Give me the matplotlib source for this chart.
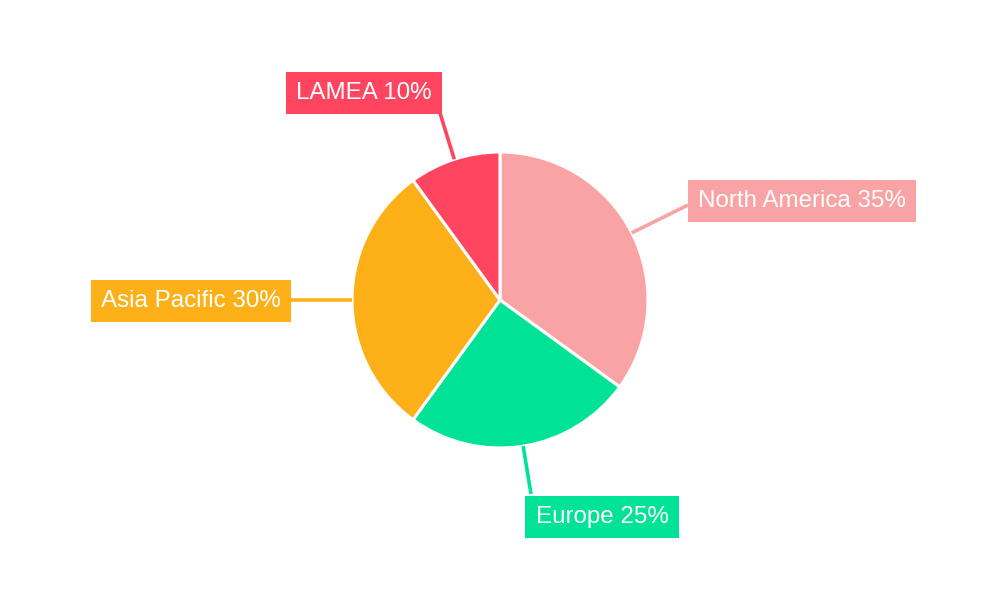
import numpy as np
import matplotlib
matplotlib.use("Agg")
import matplotlib.pyplot as plt

plt.rcParams['font.family'] = ['Liberation Sans', 'DejaVu Sans']

regions = ['North America', 'Europe', 'Asia Pacific', 'LAMEA']
shares = [35, 25, 30, 10]
colors = ['#F9A3A4', '#00E396', '#FEB019', '#FF4560']

# label box centres in pixel space (y from top)
label_pos = [(802, 200), (602, 516), (191, 300), (364, 92)]
# where the leader line meets the box
line_end = [(688, 205), (531, 494), (290, 300), (440, 113)]

fig = plt.figure(figsize=(10, 6), dpi=100)
ax = fig.add_axes([0, 0, 1, 1])

cx, cy, r = 500, 300, 148
wedges, _ = ax.pie(shares, colors=colors, startangle=90, counterclock=False,
                   center=(cx, cy), radius=r, frame=True,
                   wedgeprops=dict(edgecolor='white', linewidth=2.2))
ax.set_xlim(0, 1000)
ax.set_ylim(0, 600)
ax.set_aspect('equal')
ax.axis('off')

for w, name, val, col, (tx, ty), (ex, ey) in zip(wedges, regions, shares, colors, label_pos, line_end):
    mid = np.deg2rad((w.theta1 + w.theta2) / 2)
    px, py = cx + r * np.cos(mid), cy + r * np.sin(mid)
    ax.plot([px, ex], [py, 600 - ey], color=col, lw=2.6, solid_capstyle='butt', zorder=1)
    ax.text(tx, 600 - ty - 1, f'{name} {val}%', color='white', fontsize=17.4,
            ha='center', va='center', zorder=3,
            bbox=dict(boxstyle='square,pad=0.42', fc=col, ec='none'))

fig.savefig('out.png', dpi=100, facecolor='white')
